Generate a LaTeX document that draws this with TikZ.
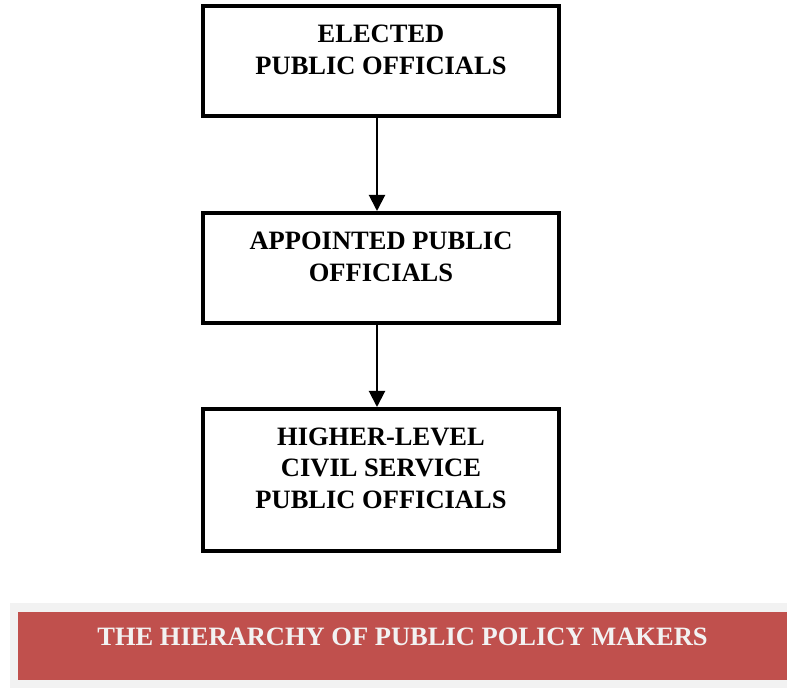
\documentclass[tikz,border=0pt]{standalone}
\usepackage{fontspec}
\setmainfont{Liberation Serif}
\usetikzlibrary{arrows.meta}
\definecolor{bannerred}{RGB}{192,80,77}
\definecolor{bannergray}{RGB}{242,242,242}
\tikzset{
  rank/.style={draw, line width=4pt, minimum width=356pt, inner sep=0pt},
  ranktext/.style={align=center, inner sep=0pt, font=\fontsize{26.5}{31.5}\selectfont\bfseries},
  link/.style={line width=2pt, -{Triangle[width=16pt,length=16pt]}},
}

\begin{document}
\begin{tikzpicture}[x=1pt, y=1pt]
    \useasboundingbox (0,0) rectangle (787,688);
    % the three ranks
    \node[rank, minimum height=110pt] (elected) at (381,627) {};
    \node[ranktext] (electedtext) at ([yshift=11pt]elected.center)
        {ELECTED\\PUBLIC OFFICIALS};
    \node[rank, minimum height=110pt] (appointed) at (381,420) {};
    \node[ranktext] (appointedtext) at ([yshift=11pt]appointed.center)
        {APPOINTED PUBLIC\\OFFICIALS};
    \node[rank, minimum height=142pt] (civil) at (381,208) {};
    \node[ranktext] (civiltext) at ([yshift=12pt]civil.center)
        {HIGHER-LEVEL\\CIVIL SERVICE\\PUBLIC OFFICIALS};

    \draw[link] ([xshift=-4pt]elected.south) -- ([xshift=-4pt]appointed.north);
    \draw[link] ([xshift=-4pt]appointed.south) -- ([xshift=-4pt]civil.north);

    % caption banner
    \fill[bannergray] (10,0) rectangle (787,85);
    \node[fill=bannerred, text=bannergray, inner sep=0pt, minimum width=769pt,
        text height=34pt, text depth=34pt,
        font=\fontsize{26.5}{31.5}\selectfont\bfseries] (title) at (402.5,42)
        {THE HIERARCHY OF PUBLIC POLICY MAKERS};
\end{tikzpicture}
\end{document}
